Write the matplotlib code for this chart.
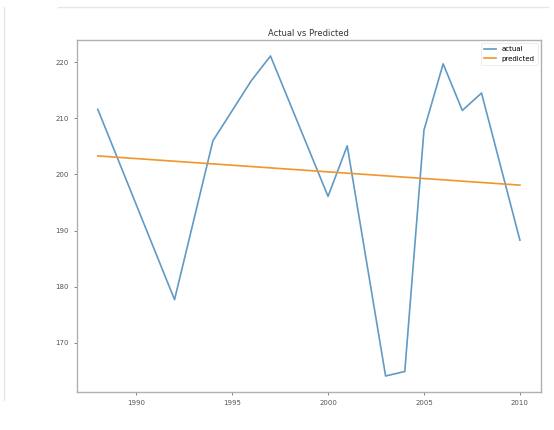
import matplotlib
matplotlib.use("Agg")
import matplotlib.pyplot as plt
from matplotlib.lines import Line2D

years = [1988, 1992, 1994, 1996, 1997, 2000, 2001, 2003, 2004, 2005, 2006, 2007, 2008, 2010]
actual = [211.6, 177.7, 206.0, 216.7, 221.1, 196.1, 205.1, 164.1, 164.9, 207.9, 219.7, 211.4, 214.5, 188.3]
pred_years = [1988, 2010]
predicted = [203.3, 198.1]
xticks = [1990, 1995, 2000, 2005, 2010]
yticks = [170, 180, 190, 200, 210, 220]

fig = plt.figure(figsize=(5.54, 4.30), dpi=100)
ax = fig.add_axes([76.7/554, 1 - 392/430, (541 - 76.7)/554, (392 - 40)/430])

ax.plot(years, actual, color="#4f8fbf", lw=1.2, label="actual", alpha=0.9)
ax.plot(pred_years, predicted, color="#f0962a", lw=1.2, label="predicted")

ax.set_xticks(xticks)
ax.set_yticks(yticks)
ax.tick_params(labelsize=5, colors="#555555", length=2, width=0.5)
for s in ax.spines.values():
    s.set_color("#b0b0b0")
    s.set_linewidth(1.0)
ax.set_title("Actual vs Predicted", fontsize=6, color="#333333", pad=3)
leg = ax.legend(fontsize=5, loc="upper right", frameon=True, handlelength=1.8)
leg.get_frame().set_edgecolor("#dddddd")
leg.get_frame().set_linewidth(0.5)

# screenshot frame artifacts
fig.add_artist(Line2D([58/554, 548/554], [1 - 7/430, 1 - 7/430], color="#e6e6e6", lw=1.0, transform=fig.transFigure))
fig.add_artist(Line2D([4/554, 4/554], [1 - 7/430, 1 - 400/430], color="#e6e6e6", lw=1.0, transform=fig.transFigure))

fig.savefig("out.png", dpi=100)
